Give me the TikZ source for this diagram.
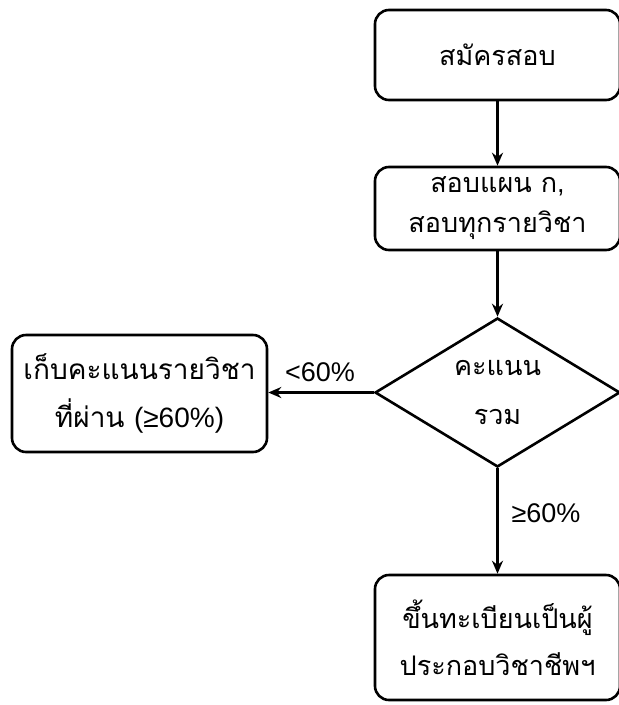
\documentclass[tikz,border=0pt]{standalone}
\usepackage{fontspec}
\newfontfamily\thai[Script=Thai]{Loma}
\newfontfamily\lat{Liberation Sans}
\usetikzlibrary{shapes.geometric,arrows.meta}
\begin{document}
\begin{tikzpicture}[x=1pt,y=-1pt,
  box/.style={draw,line width=2.6pt,rounded corners=14pt,minimum width=245pt,align=center,inner sep=0pt,font=\thai\fontsize{27}{44}\selectfont},
  dia/.style={draw,line width=2.6pt,shape=diamond,aspect=1.64,inner sep=0pt,minimum width=245pt,minimum height=149pt,align=center,font=\thai\fontsize{27}{49}\selectfont},
  arr/.style={draw,line width=2.4pt,-{Stealth[length=13pt,width=11pt]}},
  lbl/.style={font=\lat\fontsize{27}{30}\selectfont,inner sep=0pt}]
\useasboundingbox (0,0) rectangle (619,705);
\clip (0,0) rectangle (619,705);
\node[box,minimum height=90pt] (apply) at (497.5,55) {สมัครสอบ};
\node[box,minimum height=83pt,font=\thai\fontsize{27}{40}\selectfont] (exam) at (497.5,208.5) {สอบแผน ก{\lat ,}\\สอบทุกรายวิชา};
\node[dia] (score) at (497.5,392.5) {คะแนน\\รวม};
\node[box,minimum width=255pt,minimum height=117pt,font=\thai\fontsize{28}{48}\selectfont] (keep) at (139.5,393.5) {เก็บคะแนนรายวิชา\\ที่ผ่าน {\lat (≥60\%)}};
\node[box,minimum height=125pt,font=\thai\fontsize{27}{47}\selectfont] (reg) at (497.5,637.5) {ขึ้นทะเบียนเป็นผู้\\ประกอบวิชาชีพฯ};
\draw[arr] (apply) -- (exam);
\draw[arr] (exam) -- (score);
\draw[arr] (score.west) -- (score.west -| keep.east);
\draw[arr] (score) -- (reg);
\node[lbl] (lt) at (320,372) {<60\%};
\node[lbl] (ge) at (546,513) {≥60\%};
\end{tikzpicture}
\end{document}
